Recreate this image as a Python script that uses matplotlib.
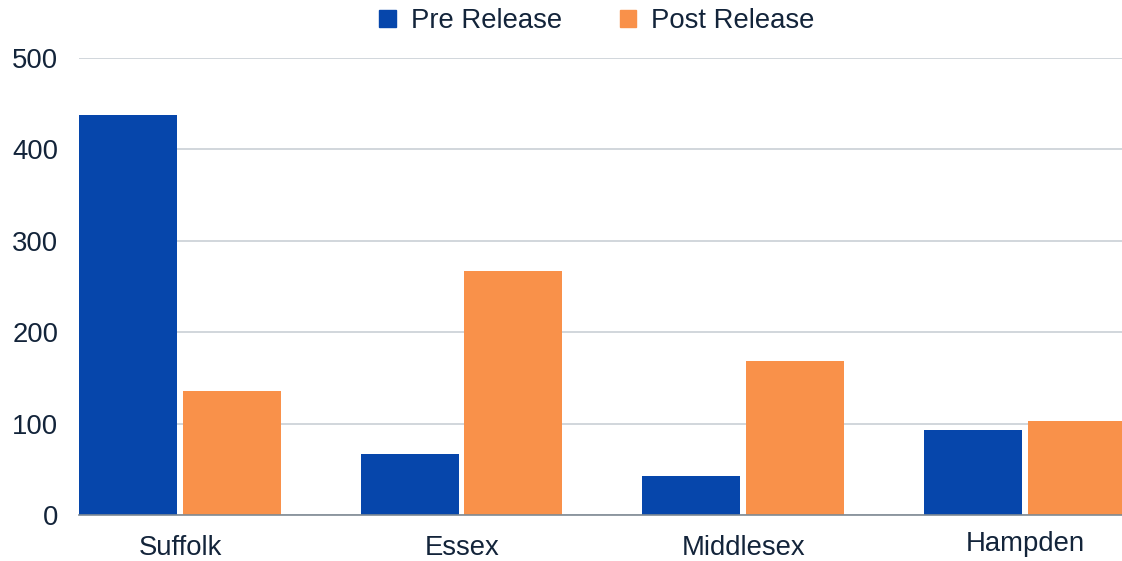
import matplotlib
matplotlib.use("Agg")
import matplotlib.pyplot as plt
import matplotlib.transforms as mtransforms
from matplotlib.patches import Patch
import numpy as np

plt.rcParams['font.family'] = ['Liberation Sans', 'DejaVu Sans']

counties = ["Suffolk", "Essex", "Middlesex", "Hampden"]
pre_release = [438, 67, 43, 93]
post_release = [136, 267, 168, 103]

blue = "#0646AB"
orange = "#F9914A"
txt = "#13243A"

fig = plt.figure(figsize=(11.22, 5.61), dpi=100)
ax = fig.add_axes([79/1122, 46/561, 1 - 79/1122, 457/561])

x = np.arange(len(counties))
w = 0.348
ax.bar(x - 0.1846, pre_release, w, color=blue, zorder=3)
ax.bar(x + 0.183, post_release, w, color=orange, zorder=3)

ax.set_xlim(-0.3585, 3.344)
ax.set_ylim(0, 500)
ax.set_yticks([0, 100, 200, 300, 400, 500])
ax.yaxis.grid(True, color="#c9d0d6", linewidth=1.2, zorder=0)
ax.set_xticks(x)
ax.set_xticklabels(counties)
ax.tick_params(axis='both', length=0, labelsize=19.8, labelcolor=txt)
ax.tick_params(axis='x', pad=14.5)
ax.tick_params(axis='y', pad=15)

for s in ['top', 'right', 'left']:
    ax.spines[s].set_visible(False)
ax.spines['bottom'].set_color("#7f8a93")
ax.spines['bottom'].set_linewidth(1.2)
ax.spines['bottom'].set_zorder(4)

# Hampden label sits a little higher in the original
lab = ax.get_xticklabels()[3]
lab.set_transform(lab.get_transform() + mtransforms.ScaledTranslation(0, 0.04, fig.dpi_scale_trans))

handles = [Patch(color=blue, label="Pre Release"), Patch(color=orange, label="Post Release")]
fig.legend(handles=handles, loc='center', bbox_to_anchor=(0.532, 1 - 21/561), ncol=2,
           frameon=False, fontsize=19.8, labelcolor=txt, handlelength=0.6, handleheight=0.6,
           handletextpad=0.55, columnspacing=2.1, borderpad=0)

fig.savefig("out.png", dpi=100)
